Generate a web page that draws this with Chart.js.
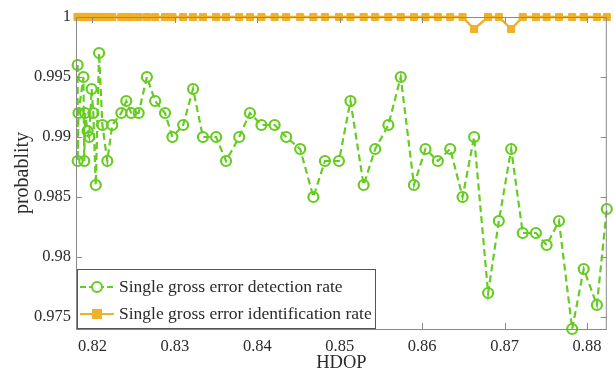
<!DOCTYPE html>
<html>
<head>
<meta charset="utf-8">
<script src="https://cdn.jsdelivr.net/npm/chart.js@4"></script>
<style>
  html, body { margin: 0; padding: 0; background: #fff; }
  #wrap { width: 614px; height: 375px; }
</style>
</head>
<body>
<div id="wrap"><canvas id="chart" width="614" height="375"></canvas></div>
<script>
// HDOP values (x), shared by both series
const hdop = [
    0.8182, 0.8182, 0.8183, 0.8189, 0.8190, 0.8191, 0.8194, 0.8196, 0.8199, 0.8201,
    0.8204, 0.8208, 0.8212, 0.8218, 0.8224, 0.8235, 0.8241, 0.8247, 0.8256, 0.8266,
    0.8276, 0.8288, 0.8297, 0.8310, 0.8322, 0.8334, 0.8350, 0.8362, 0.8378, 0.8391,
    0.8405, 0.8421, 0.8435, 0.8452, 0.8468, 0.8482, 0.8499, 0.8513, 0.8529, 0.8543,
    0.8559, 0.8574, 0.8590, 0.8604, 0.8619, 0.8634, 0.8649, 0.8663, 0.8680, 0.8693,
    0.8708, 0.8722, 0.8738, 0.8751, 0.8766, 0.8782, 0.8796, 0.8812, 0.8824
];
const detectionRate = [
    0.996, 0.988, 0.992, 0.995, 0.988, 0.992, 0.9905, 0.990, 0.994, 0.992,
    0.986, 0.997, 0.991, 0.988, 0.991, 0.992, 0.993, 0.992, 0.992, 0.995,
    0.993, 0.992, 0.990, 0.991, 0.994, 0.990, 0.990, 0.988, 0.990, 0.992,
    0.991, 0.991, 0.990, 0.989, 0.985, 0.988, 0.988, 0.993, 0.986, 0.989,
    0.991, 0.995, 0.986, 0.989, 0.988, 0.989, 0.985, 0.990, 0.977, 0.983,
    0.989, 0.982, 0.982, 0.981, 0.983, 0.974, 0.979, 0.976, 0.984
];
const identificationRate = [
    1, 1, 1, 1, 1, 1, 1, 1, 1, 1,
    1, 1, 1, 1, 1, 1, 1, 1, 1, 1,
    1, 1, 1, 1, 1, 1, 1, 1, 1, 1,
    1, 1, 1, 1, 1, 1, 1, 1, 1, 1,
    1, 1, 1, 1, 1, 1, 1, 0.999, 1, 1,
    0.999, 1, 1, 1, 1, 1, 1, 1, 1
];
const seriesNames = ["Single gross error detection rate", "Single gross error identification rate"];
const xTicks = [0.82, 0.83, 0.84, 0.85, 0.86, 0.87, 0.88];
const yTicks = [0.975, 0.98, 0.985, 0.99, 0.995, 1];

const GREEN = "#66cc22";
const ORANGE = "#efb02a";
const AXIS = "#8a8a8a";
const TEXT = "#2b2b2b";
const SERIF = "'Liberation Serif', 'Times New Roman', serif";

function toPoints(ys) {
    return hdop.map((x, i) => ({ x: x, y: ys[i] }));
}

// box round the plot with inward ticks, like the original
const framePlugin = {
    id: "frame",
    afterDatasetsDraw(chart) {
        const { ctx, chartArea: a, scales } = chart;
        ctx.save();
        ctx.strokeStyle = AXIS;
        ctx.lineWidth = 1;
        ctx.strokeRect(a.left + 0.5, a.top + 0.5, a.right - a.left - 1, a.bottom - a.top);
        ctx.beginPath();
        xTicks.forEach(v => {
            let px = Math.round(scales.x.getPixelForValue(v)) + 0.5;
            ctx.moveTo(px, a.bottom); ctx.lineTo(px, a.bottom - 6);
            ctx.moveTo(px, a.top); ctx.lineTo(px, a.top + 6);
        });
        yTicks.forEach(v => {
            let py = Math.round(scales.y.getPixelForValue(v)) + 0.5;
            ctx.moveTo(a.left, py); ctx.lineTo(a.left + 6, py);
            ctx.moveTo(a.right, py); ctx.lineTo(a.right - 6, py);
        });
        ctx.stroke();
        ctx.restore();
    }
};

// legend box in the lower left corner of the plot
const legendPlugin = {
    id: "boxLegend",
    afterDraw(chart) {
        const { ctx, chartArea: a } = chart;
        let x0 = a.left + 1, y0 = 269, w = 298, h = a.bottom - 269;
        ctx.save();
        ctx.fillStyle = "#fff";
        ctx.fillRect(x0, y0, w, h);
        ctx.strokeStyle = "#555";
        ctx.lineWidth = 1;
        ctx.strokeRect(x0 + 0.5, y0 + 0.5, w, h - 1);

        let rows = [
            { y: y0 + 18, color: GREEN, dash: [6, 3], mark: "circle" },
            { y: y0 + 45, color: ORANGE, dash: [], mark: "rect" }
        ];
        rows.forEach((r, i) => {
            ctx.strokeStyle = r.color;
            ctx.lineWidth = 2.2;
            ctx.setLineDash(r.dash);
            ctx.beginPath();
            ctx.moveTo(x0 + 3, r.y);
            ctx.lineTo(x0 + 37, r.y);
            ctx.stroke();
            ctx.setLineDash([]);
            let cx = x0 + 20;
            if (r.mark === "circle") {
                ctx.lineWidth = 2;
                ctx.fillStyle = "#fff";
                ctx.beginPath();
                ctx.arc(cx, r.y, 5, 0, Math.PI * 2);
                ctx.fill();
                ctx.stroke();
            } else {
                ctx.fillStyle = r.color;
                ctx.fillRect(cx - 5, r.y - 5, 10, 10);
            }
            ctx.fillStyle = TEXT;
            ctx.font = "17.5px " + SERIF;
            ctx.textBaseline = "middle";
            ctx.fillText(seriesNames[i], x0 + 42, r.y);
        });
        ctx.restore();
    }
};

new Chart(document.getElementById("chart").getContext("2d"), {
    type: "line",
    data: {
        datasets: [{
            label: seriesNames[0],
            data: toPoints(detectionRate),
            borderColor: GREEN,
            borderWidth: 2.2,
            borderDash: [7, 4],
            pointStyle: "circle",
            pointRadius: 5,
            pointBorderWidth: 2.2,
            pointBorderColor: GREEN,
            pointBackgroundColor: "rgba(255,255,255,0)",
            tension: 0,
            clip: false
        }, {
            label: seriesNames[1],
            data: toPoints(identificationRate),
            borderColor: ORANGE,
            borderWidth: 2.4,
            pointStyle: "rect",
            pointRadius: 5,
            pointBorderWidth: 1,
            pointBorderColor: ORANGE,
            pointBackgroundColor: ORANGE,
            tension: 0,
            clip: false
        }]
    },
    options: {
        responsive: false,
        animation: false,
        devicePixelRatio: 1,
        layout: { padding: { left: 0, right: 1, top: 17, bottom: 0 } },
        plugins: {
            legend: { display: false },
            tooltip: { enabled: false }
        },
        scales: {
            x: {
                type: "linear",
                min: 0.818,
                max: 0.8824,
                afterBuildTicks: s => { s.ticks = xTicks.map(v => ({ value: v })); },
                afterFit: s => { s.height = 46; },
                grid: { display: false, drawTicks: false },
                border: { display: false },
                ticks: {
                    autoSkip: false,
                    maxRotation: 0,
                    padding: 8,
                    color: TEXT,
                    font: { family: SERIF, size: 16.5 },
                    callback: v => v.toFixed(2)
                },
                title: {
                    display: true,
                    text: "HDOP",
                    color: TEXT,
                    font: { family: SERIF, size: 18.5 },
                    padding: { top: 0, bottom: 1 }
                }
            },
            y: {
                type: "linear",
                min: 0.974,
                max: 1,
                afterBuildTicks: s => { s.ticks = yTicks.map(v => ({ value: v })); },
                afterFit: s => { s.width = 76; },
                grid: { display: false, drawTicks: false },
                border: { display: false },
                ticks: {
                    padding: 5,
                    color: TEXT,
                    font: { family: SERIF, size: 16.5 },
                    callback: v => String(+v.toFixed(3))
                },
                title: {
                    display: true,
                    text: "probablity",
                    color: TEXT,
                    font: { family: SERIF, size: 20 },
                    padding: { top: 11, bottom: 0 }
                }
            }
        }
    },
    plugins: [framePlugin, legendPlugin]
});
</script>
</body>
</html>
